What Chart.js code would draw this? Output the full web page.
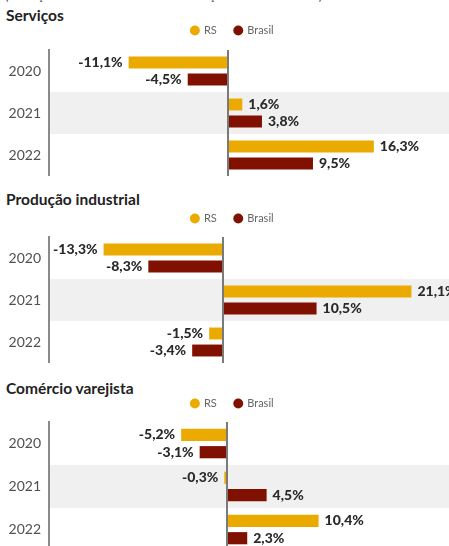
<!DOCTYPE html>
<html><head><meta charset="utf-8">
<script src="https://cdn.jsdelivr.net/npm/chart.js@4.4.1/dist/chart.umd.min.js"></script>
<style>
html,body{margin:0;padding:0;background:#fff}
body{width:449px;height:546px;overflow:hidden;position:relative;font-family:Lato,sans-serif}
.cap{position:absolute;left:5px;top:-11px;font:13px Lato,sans-serif;color:#555;white-space:nowrap;line-height:13px}
.t{position:absolute;left:6px;font:bold 15.5px Lato,sans-serif;color:#222;white-space:nowrap;line-height:15px}
canvas{position:absolute;left:0}
</style></head><body>
<div class="cap">(Variação acumulada no ano em relação ao ano anterior)</div>
<div class="t" id="t0"></div><div class="t" id="t1"></div><div class="t" id="t2"></div>
<canvas id="c0"></canvas><canvas id="c1"></canvas><canvas id="c2"></canvas>
<script>
// ---- data ----
const categories = ['2020', '2021', '2022'];
const seriesLabels = ['RS', 'Brasil'];
const panelTitles = ['Serviços', 'Produção industrial', 'Comércio varejista'];
const servicosRS = [-11.1, 1.6, 16.3];
const servicosBrasil = [-4.5, 3.8, 9.5];
const industriaRS = [-13.3, 21.1, -1.5];
const industriaBrasil = [-8.3, 10.5, -3.4];
const comercioRS = [-5.2, -0.3, 10.4];
const comercioBrasil = [-3.1, 4.5, 2.3];

// ---- layout / style ----
const colors = ['#EBAA00', '#801100'];
const layout = [
  {titleTop: 8,   top: 7,   gap: 4, height: 169, min: -20.0, max: 24.7},
  {titleTop: 192, top: 195, gap: 3, height: 168, min: -19.4, max: 25.3},
  {titleTop: 381, top: 380, gap: 3, height: 171, min: -20.2, max: 25.2}
];
const seriesData = [[servicosRS, servicosBrasil], [industriaRS, industriaBrasil], [comercioRS, comercioBrasil]];

const bandPlugin = {
  id: 'band',
  afterLayout(chart) {
    if (chart.legend) { chart.legend.left += 5; chart.legend.right += 5; }
  },
  beforeDraw(chart) {
    const {ctx, chartArea} = chart;
    const y = chart.scales.y;
    const row = (chartArea.bottom - chartArea.top) / categories.length;
    ctx.save();
    ctx.fillStyle = '#f0f0f0';
    const c = y.getPixelForValue(1);
    ctx.fillRect(chartArea.left + 1, c - row / 2, chart.width - chartArea.left - 1, row);
    ctx.restore();
  },
  afterDatasetsDraw(chart) {
    const {ctx, chartArea} = chart;
    const x0 = chart.scales.x.getPixelForValue(0);
    ctx.save();
    ctx.strokeStyle = '#7a7a7a';
    ctx.lineWidth = 2;
    ctx.beginPath();
    ctx.moveTo(Math.round(x0), chartArea.top);
    ctx.lineTo(Math.round(x0), chartArea.bottom);
    ctx.stroke();
    ctx.font = '900 14px Lato, sans-serif';
    ctx.fillStyle = '#2a2a2a';
    ctx.textBaseline = 'middle';
    chart.data.datasets.forEach((ds, i) => {
      chart.getDatasetMeta(i).data.forEach((bar, j) => {
        const v = ds.data[j];
        const txt = v.toFixed(1).replace('.', ',') + '%';
        if (v < 0) { ctx.textAlign = 'right'; ctx.fillText(txt, bar.x - 6, bar.y); }
        else { ctx.textAlign = 'left'; ctx.fillText(txt, bar.x + 6, bar.y); }
      });
    });
    ctx.restore();
  }
};

layout.forEach((L, p) => {
  const t = document.getElementById('t' + p);
  t.textContent = panelTitles[p];
  t.style.top = L.titleTop + 'px';
  const cv = document.getElementById('c' + p);
  cv.width = 449; cv.height = L.height;
  cv.style.top = L.top + 'px';
  new Chart(cv, {
    type: 'bar',
    data: {
      labels: categories,
      datasets: seriesLabels.map((s, i) => ({
        label: s,
        data: seriesData[p][i],
        backgroundColor: colors[i],
        categoryPercentage: 0.81,
        barPercentage: 0.7
      }))
    },
    options: {
      indexAxis: 'y',
      responsive: false,
      animation: false,
      devicePixelRatio: 1,
      layout: {padding: {left: 6, right: 0, top: 0, bottom: 0}},
      plugins: {
        legend: {
          display: true, position: 'top', align: 'center',
          labels: {
            usePointStyle: true, pointStyle: 'circle', boxWidth: 7, boxHeight: 7,
            padding: 18, color: '#666', font: {family: 'Lato', size: 11}
          }
        },
        tooltip: {enabled: false},
        title: {display: false}
      },
      scales: {
        x: {
          position: 'top', min: L.min, max: L.max,
          ticks: {display: false}, grid: {display: false, drawTicks: false},
          border: {display: false},
          afterFit: s => { s.height = L.gap; }
        },
        y: {
          ticks: {color: '#505050', padding: 8, font: {family: 'Lato', size: 14}},
          grid: {display: false, drawTicks: false},
          border: {display: true, color: '#8a8a8a', width: 2},
          afterFit: s => { s.width = 43; s.paddingTop = 0; s.paddingBottom = 0; }
        }
      }
    },
    plugins: [bandPlugin]
  });
});
</script>
</body></html>
